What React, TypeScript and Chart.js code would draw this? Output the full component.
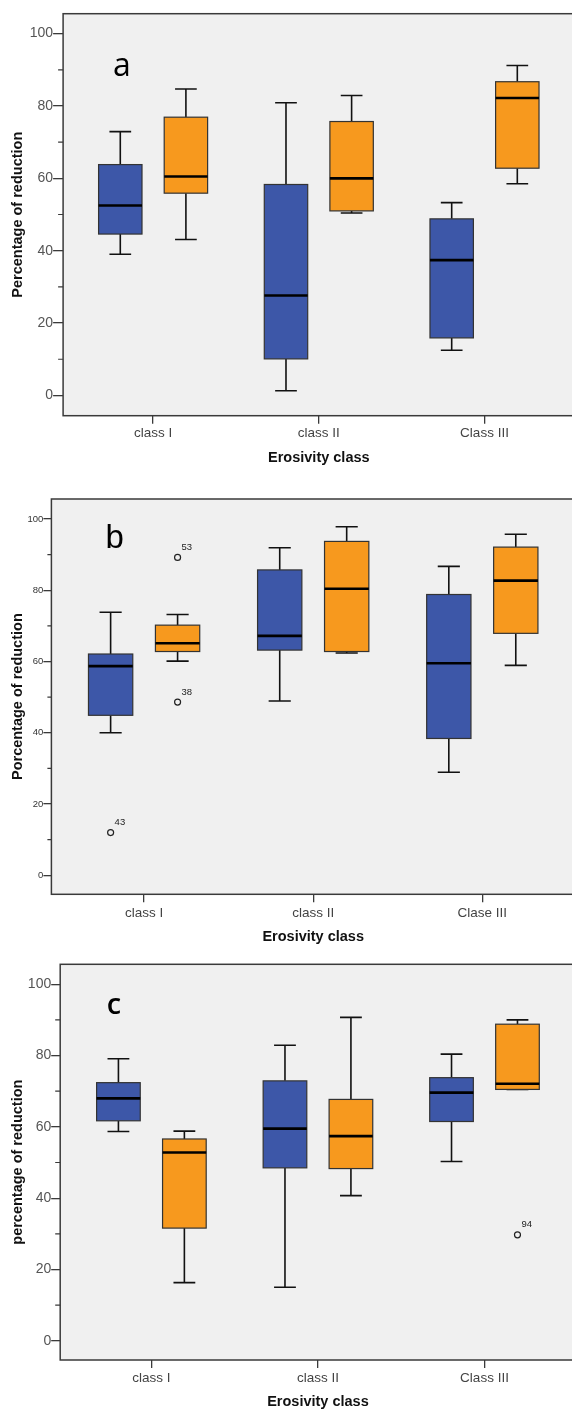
import React, { useEffect, useRef } from "react";
import { Chart, registerables } from "chart.js";
Chart.register(...registerables);

// ---------- DATA ----------
// Category labels per panel
const panelALabels = ["class I", "class II", "Class III"];
const panelBLabels = ["class I", "class II", "Clase III"];
const panelCLabels = ["class I", "class II", "Class III"];

// Y axis ticks
const yMajorTicks = [0, 20, 40, 60, 80, 100];
const yMinorTicks = [10, 30, 50, 70, 90];

// Five-number summaries per category: [min, q1, median, q3, max]
// Panel a
const aBlue = [
  [39.0, 44.6, 52.5, 63.8, 72.9],
  [1.3, 10.1, 27.6, 58.3, 80.9],
  [12.5, 15.9, 37.4, 48.8, 53.3],
];
const aOrange = [
  [43.1, 55.9, 60.5, 76.9, 84.7],
  [50.4, 51.0, 60.0, 75.7, 82.9],
  [58.5, 62.8, 82.2, 86.7, 91.2],
];
// Panel b
const bBlue = [
  [40.0, 44.9, 58.7, 62.1, 73.8],
  [48.9, 63.2, 67.2, 85.7, 91.9],
  [28.9, 38.4, 59.5, 78.8, 86.7],
];
const bOrange = [
  [60.1, 62.8, 65.1, 70.2, 73.2],
  [62.4, 62.8, 80.4, 93.7, 97.8],
  [58.9, 67.9, 82.7, 92.1, 95.7],
];
// Panel c
const cBlue = [
  [58.7, 61.7, 68.0, 72.4, 79.1],
  [15.0, 48.5, 59.5, 72.9, 82.9],
  [50.3, 61.5, 69.6, 73.8, 80.4],
];
const cOrange = [
  [16.3, 31.6, 52.8, 56.6, 58.8],
  [40.7, 48.3, 57.4, 67.7, 90.7],
  [70.5, 70.5, 72.1, 88.8, 90.0],
];

type Outlier = { series: number; cat: number; value: number; label: string };
const aOutliers: Outlier[] = [];
const bOutliers: Outlier[] = [
  { series: 0, cat: 0, value: 12.0, label: "43" },
  { series: 1, cat: 0, value: 89.2, label: "53" },
  { series: 1, cat: 0, value: 48.6, label: "38" },
];
const cOutliers: Outlier[] = [{ series: 1, cat: 2, value: 29.7, label: "94" }];

// ---------- STYLE / LAYOUT ----------
const SERIES_FILL = ["#3d57a8", "#f7991e"];
const GROUP_OFFSET = 0.198; // in category units
const BOX_WIDTH = 0.262; // in category units
const CANVAS_W = 600;
const FONT = '"Liberation Sans", Arial, sans-serif';

interface PanelCfg {
  top: number;
  height: number;
  frameTop: number;
  frameBottom: number;
  frameLeft: number;
  cat1: number;
  spacing: number;
  yMin: number;
  yMax: number;
  yTickFont: number;
  yTickColor: string;
  yTickLen: number;
  yMinorLen: number;
  xTickPad: number;
  xTitlePad: number;
  yTitle: string;
  labels: string[];
  blue: number[][];
  orange: number[][];
  outliers: Outlier[];
  letter: string;
  letterFont: string;
  letterX: number;
  letterY: number;
}

const panels: PanelCfg[] = [
  {
    top: 0, height: 470, frameTop: 13.7, frameBottom: 415.7, frameLeft: 63.1,
    cat1: 153.1, spacing: 165.7, yMin: -5.6, yMax: 105.5,
    yTickFont: 14, yTickColor: "#555", yTickLen: 10, yMinorLen: 5,
    xTickPad: 1, xTitlePad: 4.45, yTitle: "Percentage of reduction",
    labels: panelALabels, blue: aBlue, orange: aOrange, outliers: aOutliers,
    letter: "a", letterFont: '32px "Open Sans"', letterX: 122, letterY: 76,
  },
  {
    top: 470, height: 480, frameTop: 499, frameBottom: 894.3, frameLeft: 51.4,
    cat1: 144.1, spacing: 169.1, yMin: -5.33, yMax: 105.6,
    yTickFont: 9.5, yTickColor: "#333", yTickLen: 8, yMinorLen: 4,
    xTickPad: 2.4, xTitlePad: 6.05, yTitle: "Porcentage of reduction",
    labels: panelBLabels, blue: bBlue, orange: bOrange, outliers: bOutliers,
    letter: "b", letterFont: '33px "Liberation Sans"', letterX: 114.7, letterY: 77.7,
  },
  {
    top: 950, height: 460, frameTop: 964.3, frameBottom: 1360, frameLeft: 60.2,
    cat1: 151.4, spacing: 166.55, yMin: -5.4, yMax: 105.6,
    yTickFont: 14, yTickColor: "#555", yTickLen: 9, yMinorLen: 5,
    xTickPad: 1.7, xTitlePad: 0.45, yTitle: "percentage of reduction",
    labels: panelCLabels, blue: cBlue, orange: cOrange, outliers: cOutliers,
    letter: "c", letterFont: '600 29px "Open Sans"', letterX: 114, letterY: 64,
  },
];

function makePlugin(cfg: PanelCfg) {
  return {
    id: "boxplotPanel",
    beforeDraw(chart: any) {
      const { ctx, chartArea: a } = chart;
      ctx.save();
      ctx.fillStyle = "#ffffff";
      ctx.fillRect(0, 0, chart.width, chart.height);
      ctx.fillStyle = "#f0f0f0";
      ctx.fillRect(a.left, a.top, a.right - a.left, a.bottom - a.top);
      ctx.restore();
    },
    beforeDatasetsDraw(chart: any) {
      const { ctx } = chart;
      const xs = chart.scales.x;
      const ys = chart.scales.y;
      ctx.save();
      // panel letter
      ctx.fillStyle = "#000";
      ctx.font = cfg.letterFont;
      ctx.textAlign = "center";
      ctx.textBaseline = "alphabetic";
      ctx.fillText(cfg.letter, cfg.letterX, cfg.letterY);

      const series = [cfg.blue, cfg.orange];
      series.forEach((ser, s) => {
        ser.forEach((st, i) => {
          const [mn, q1, md, q3, mx] = st;
          const center = i + 1 + (s === 0 ? -GROUP_OFFSET : GROUP_OFFSET);
          const xc = xs.getPixelForValue(center);
          const xl = xs.getPixelForValue(center - BOX_WIDTH / 2);
          const xr = xs.getPixelForValue(center + BOX_WIDTH / 2);
          const capHalf = (xr - xl) / 4;
          const yMn = ys.getPixelForValue(mn);
          const yQ1 = ys.getPixelForValue(q1);
          const yMd = ys.getPixelForValue(md);
          const yQ3 = ys.getPixelForValue(q3);
          const yMx = ys.getPixelForValue(mx);
          // whiskers
          ctx.strokeStyle = "#111";
          ctx.lineWidth = 1.6;
          ctx.beginPath();
          ctx.moveTo(xc, yMx);
          ctx.lineTo(xc, yQ3);
          ctx.moveTo(xc, yQ1);
          ctx.lineTo(xc, yMn);
          ctx.moveTo(xc - capHalf, yMx);
          ctx.lineTo(xc + capHalf, yMx);
          ctx.moveTo(xc - capHalf, yMn);
          ctx.lineTo(xc + capHalf, yMn);
          ctx.stroke();
          // box
          ctx.fillStyle = SERIES_FILL[s];
          ctx.fillRect(xl, yQ3, xr - xl, yQ1 - yQ3);
          ctx.strokeStyle = "#333";
          ctx.lineWidth = 1.2;
          ctx.strokeRect(xl, yQ3, xr - xl, yQ1 - yQ3);
          // median
          ctx.strokeStyle = "#000";
          ctx.lineWidth = 2.6;
          ctx.beginPath();
          ctx.moveTo(xl, yMd);
          ctx.lineTo(xr, yMd);
          ctx.stroke();
        });
      });
      ctx.restore();
    },
    afterDatasetsDraw(chart: any) {
      const { ctx } = chart;
      const meta = chart.getDatasetMeta(0);
      ctx.save();
      ctx.fillStyle = "#222";
      ctx.font = `9.5px ${FONT}`;
      ctx.textAlign = "left";
      ctx.textBaseline = "middle";
      cfg.outliers.forEach((o, k) => {
        const el = meta.data[k];
        if (!el) return;
        ctx.fillText(o.label, el.x + 4, el.y - 10);
      });
      ctx.restore();
    },
    afterDraw(chart: any) {
      const { ctx, chartArea: a } = chart;
      const ys = chart.scales.y;
      ctx.save();
      ctx.strokeStyle = "#3a3a3a";
      ctx.lineWidth = 1.2;
      ctx.beginPath();
      yMinorTicks.forEach((v) => {
        const y = ys.getPixelForValue(v);
        ctx.moveTo(a.left - cfg.yMinorLen, y);
        ctx.lineTo(a.left, y);
      });
      ctx.stroke();
      ctx.lineWidth = 1.5;
      ctx.strokeRect(a.left, a.top, a.right - a.left, a.bottom - a.top);
      ctx.restore();
    },
  };
}

function Panel({ cfg }: { cfg: PanelCfg }) {
  const ref = useRef<HTMLCanvasElement>(null);
  useEffect(() => {
    const canvas = ref.current;
    if (!canvas) return;
    const padUnits = (cfg.cat1 - cfg.frameLeft) / cfg.spacing;
    const xMin = 1 - padUnits;
    const xMax = cfg.labels.length + padUnits;
    const frameRight = cfg.frameLeft + (xMax - xMin) * cfg.spacing;
    const points = cfg.outliers.map((o) => ({
      x: o.cat + 1 + (o.series === 0 ? -GROUP_OFFSET : GROUP_OFFSET),
      y: o.value,
    }));
    const catValues = cfg.labels.map((_, i) => i + 1);
    const chart = new Chart(canvas, {
      type: "scatter",
      data: {
        datasets: [
          {
            data: points,
            pointRadius: 3,
            pointHoverRadius: 3,
            pointBorderColor: "#222",
            pointBackgroundColor: "rgba(0,0,0,0)",
            pointBorderWidth: 1.2,
          },
        ],
      },
      options: {
        responsive: false,
        animation: false,
        devicePixelRatio: 1,
        events: [],
        layout: {
          padding: {
            top: cfg.frameTop - cfg.top,
            right: CANVAS_W - frameRight,
            bottom: 0,
            left: 0,
          },
        },
        plugins: { legend: { display: false }, tooltip: { enabled: false } },
        scales: {
          x: {
            type: "linear",
            min: xMin,
            max: xMax,
            afterBuildTicks: (s: any) => {
              s.ticks = catValues.map((v) => ({ value: v }));
            },
            afterFit: (s: any) => {
              s.height = cfg.height - (cfg.frameBottom - cfg.top);
            },
            grid: {
              display: true,
              drawOnChartArea: false,
              drawTicks: true,
              tickLength: 8,
              color: "#3a3a3a",
              lineWidth: 1.3,
            },
            border: { display: false },
            ticks: {
              callback: (_v: any, i: number) => cfg.labels[i],
              font: { family: FONT, size: 13.5 },
              color: "#444",
              padding: cfg.xTickPad,
              maxRotation: 0,
              autoSkip: false,
            },
            title: {
              display: true,
              text: "Erosivity class",
              font: { family: FONT, size: 14.5, weight: "bold", lineHeight: 1 },
              color: "#111",
              padding: { top: 0, bottom: cfg.xTitlePad },
            },
          },
          y: {
            type: "linear",
            min: cfg.yMin,
            max: cfg.yMax,
            afterBuildTicks: (s: any) => {
              s.ticks = yMajorTicks.map((v) => ({ value: v }));
            },
            afterFit: (s: any) => {
              s.width = cfg.frameLeft;
            },
            grid: {
              display: true,
              drawOnChartArea: false,
              drawTicks: true,
              tickLength: cfg.yTickLen,
              color: "#3a3a3a",
              lineWidth: 1.3,
            },
            border: { display: false },
            ticks: {
              callback: (v: any) => String(v),
              font: { family: FONT, size: cfg.yTickFont },
              color: cfg.yTickColor,
              padding: 0,
              autoSkip: false,
            },
            title: {
              display: true,
              text: cfg.yTitle,
              font: { family: FONT, size: 14.5, weight: "bold", lineHeight: 1 },
              color: "#111",
              padding: { top: 10.95, bottom: 0 },
            },
          },
        },
      } as any,
      plugins: [makePlugin(cfg)],
    });
    return () => chart.destroy();
  }, [cfg]);
  return (
    <canvas
      ref={ref}
      width={CANVAS_W}
      height={cfg.height}
      style={{
        position: "absolute",
        left: 0,
        top: cfg.top,
        width: CANVAS_W,
        height: cfg.height,
      }}
    />
  );
}

export default function App() {
  return (
    <div
      style={{
        position: "absolute",
        left: 0,
        top: 0,
        width: 572,
        height: 1410,
        overflow: "hidden",
        background: "#fff",
      }}
    >
      {panels.map((p, i) => (
        <Panel key={i} cfg={p} />
      ))}
    </div>
  );
}
